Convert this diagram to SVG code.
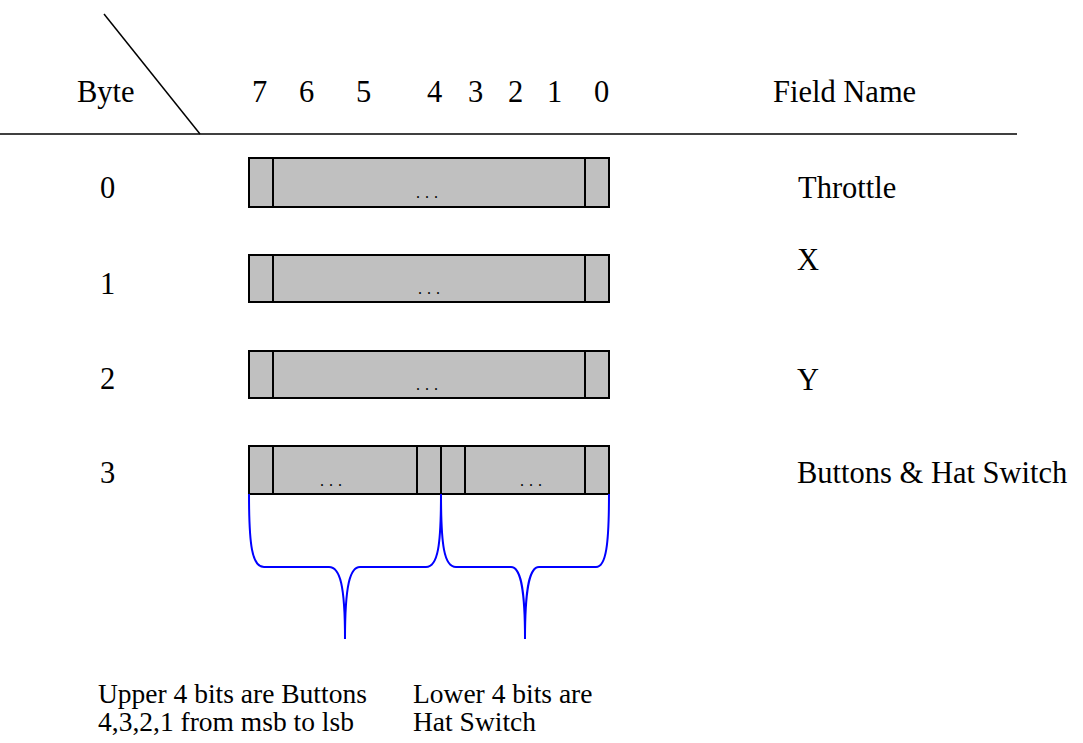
<svg xmlns="http://www.w3.org/2000/svg" width="1083" height="743" viewBox="0 0 1083 743" font-family="'Liberation Serif', 'DejaVu Serif', serif">
<style>
text{font-family:'Liberation Serif','DejaVu Serif','Times New Roman',serif;font-size:30.5px;fill:#000}
.note{font-size:27.5px}
.dots{font-size:16px;letter-spacing:5px}
.box{fill:#c0c0c0;stroke:#000;stroke-width:2}
.div{stroke:#000;stroke-width:2}
.brace{fill:none;stroke:#0000ff;stroke-width:2}
.rule{stroke:#000;stroke-width:1.5}
</style>
<rect width="1083" height="743" fill="#fff"/>
<g id="header">
<line class="rule" x1="104" y1="14" x2="200" y2="134"/>
<line class="rule" x1="0" y1="134" x2="1017" y2="134"/>
<text x="77" y="102">Byte</text>
<text x="252" y="102">7</text>
<text x="299" y="102">6</text>
<text x="356" y="102">5</text>
<text x="427" y="102">4</text>
<text x="468" y="102">3</text>
<text x="508" y="102">2</text>
<text x="547" y="102">1</text>
<text x="594" y="102">0</text>
<text x="773" y="102">Field Name</text>
</g>
<g id="byte0">
<text x="100" y="198">0</text>
<rect class="box" x="249" y="158" width="360" height="49"/>
<line class="div" x1="273" y1="158" x2="273" y2="207"/>
<line class="div" x1="585" y1="158" x2="585" y2="207"/>
<text class="dots" x="416" y="198">...</text>
<text x="798" y="198">Throttle</text>
</g>
<g id="byte1">
<text x="100" y="294">1</text>
<rect class="box" x="249" y="255" width="360" height="47"/>
<line class="div" x1="273" y1="255" x2="273" y2="302"/>
<line class="div" x1="585" y1="255" x2="585" y2="302"/>
<text class="dots" x="418" y="294">...</text>
<text x="797" y="270">X</text>
</g>
<g id="byte2">
<text x="100" y="389">2</text>
<rect class="box" x="249" y="351" width="360" height="47"/>
<line class="div" x1="273" y1="351" x2="273" y2="398"/>
<line class="div" x1="585" y1="351" x2="585" y2="398"/>
<text class="dots" x="416" y="390">...</text>
<text x="797" y="390">Y</text>
</g>
<g id="byte3">
<text x="100" y="483">3</text>
<rect class="box" x="249" y="446" width="360" height="48"/>
<line class="div" x1="273" y1="446" x2="273" y2="494"/>
<line class="div" x1="417" y1="446" x2="417" y2="494"/>
<line class="div" x1="441" y1="446" x2="441" y2="494"/>
<line class="div" x1="465" y1="446" x2="465" y2="494"/>
<line class="div" x1="585" y1="446" x2="585" y2="494"/>
<text class="dots" x="320" y="486">...</text>
<text class="dots" x="520" y="486">...</text>
<text x="797" y="483">Buttons &amp; Hat Switch</text>
</g>
<g id="connectors">
<path class="brace" d="M249,494 C249,545 252,567 264,567 L329,567 C340,567 345,585 345,639"/>
<path class="brace" d="M441,494 C441,545 438,567 426,567 L360,567 C350,567 345,585 345,639"/>
<path class="brace" d="M441,494 C441,545 444,567 456,567 L511,567 C520,567 525,585 525,639"/>
<path class="brace" d="M609,494 C609,545 606,567 596,567 L539,567 C530,567 525,585 525,639"/>
</g>
<g id="notes">
<text class="note" x="98" y="703">Upper 4 bits are Buttons</text>
<text class="note" x="98" y="731">4,3,2,1 from msb to lsb</text>
<text class="note" x="413" y="703">Lower 4 bits are</text>
<text class="note" x="413" y="731">Hat Switch</text>
</g>
</svg>
